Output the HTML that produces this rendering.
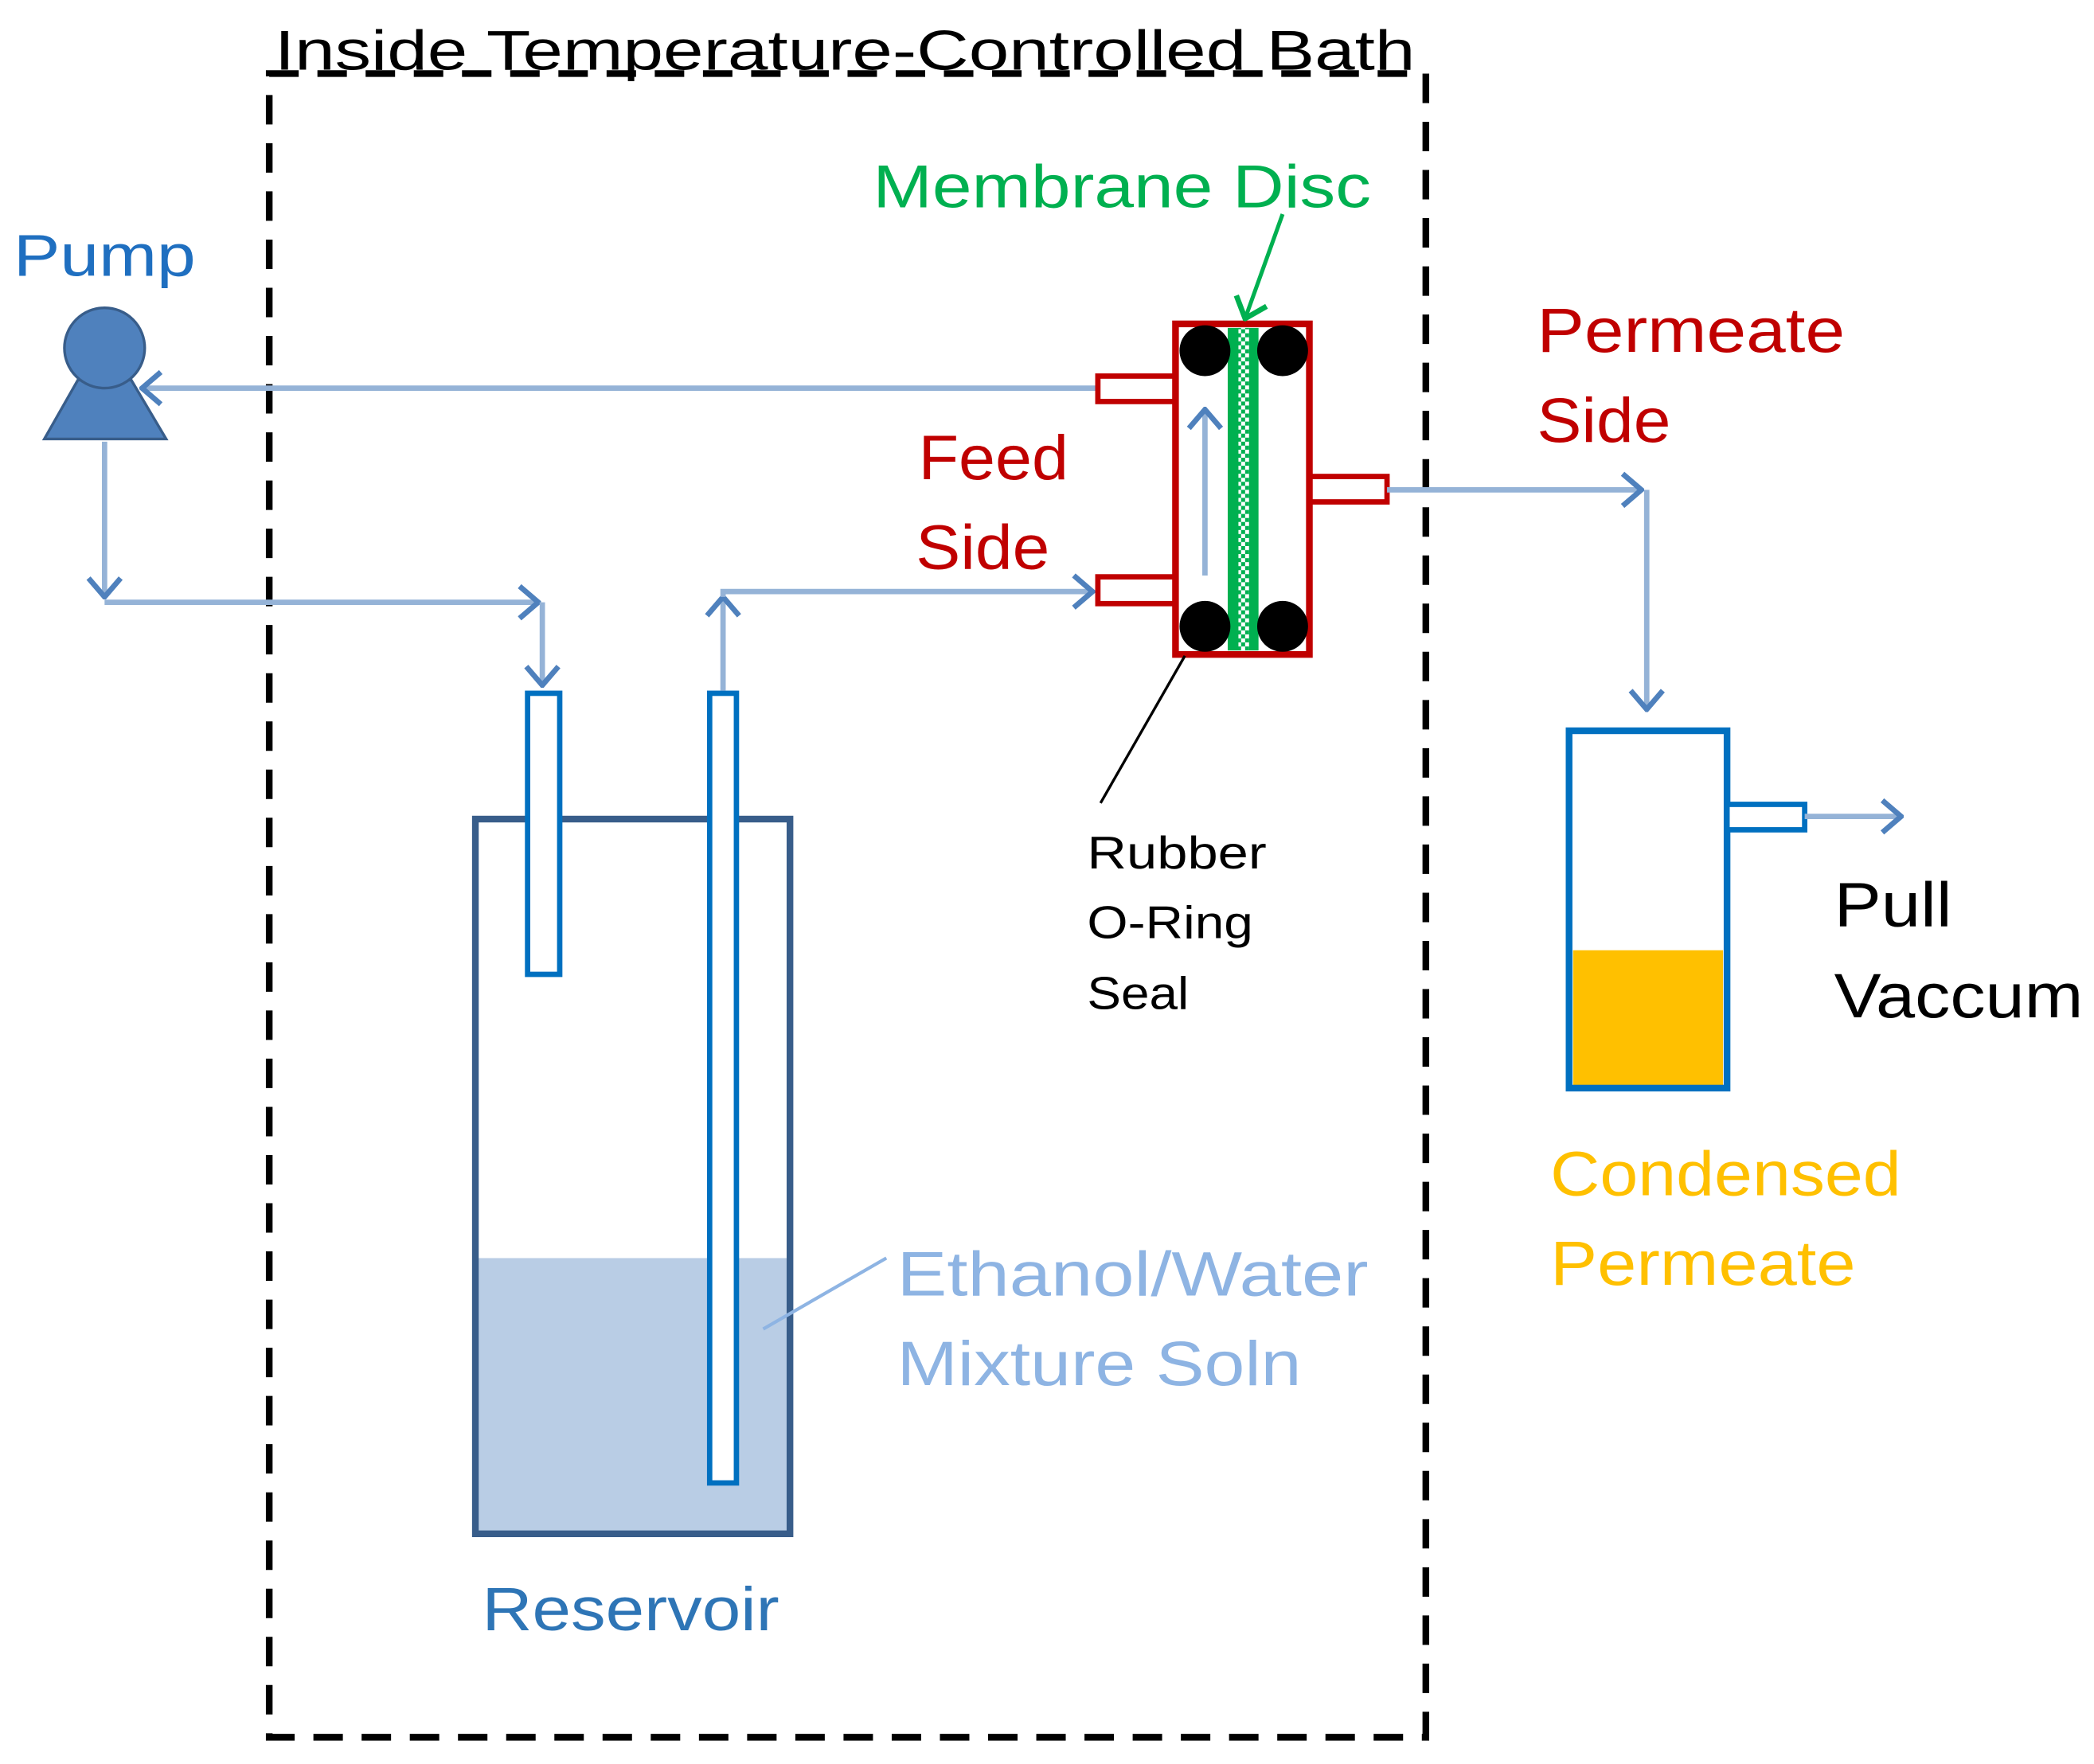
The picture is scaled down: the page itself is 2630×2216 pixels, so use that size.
<!DOCTYPE html>
<html><head><meta charset="utf-8"><style>html,body{margin:0;padding:0;background:#fff}svg{display:block}text{font-family:"Liberation Sans",sans-serif}</style></head>
<body>
<svg width="2630" height="2216" viewBox="0 0 1564 1318" xmlns="http://www.w3.org/2000/svg">
<defs>
<marker id="ab" markerWidth="18" markerHeight="28" refX="16" refY="14" orient="auto" markerUnits="userSpaceOnUse" viewBox="0 0 18 28"><path d="M2,2 L16,14 L2,26" fill="none" stroke="#4f81bd" stroke-width="4"/></marker>
<marker id="ag" markerWidth="18" markerHeight="28" refX="16" refY="14" orient="auto" viewBox="0 0 18 28" markerUnits="userSpaceOnUse"><path d="M2,2 L16,14 L2,26" fill="none" stroke="#00b050" stroke-width="4"/></marker>
<pattern id="chk" width="6" height="6" patternUnits="userSpaceOnUse"><rect width="6" height="6" fill="#00b050"/><rect width="3" height="3" fill="#fff"/><rect x="3" y="3" width="3" height="3" fill="#fff"/></pattern>
</defs>
<style>.ln{fill:none;stroke:#95b3d7;stroke-width:4}</style>
<rect x="201" y="55" width="864" height="1243" fill="none" stroke="#000" stroke-width="5" stroke-dasharray="22,14"/>
<text x="205" y="52" font-size="42" textLength="852" lengthAdjust="spacingAndGlyphs" fill="#000">Inside Temperature-Controlled Bath</text>
<text x="10" y="206" font-size="44" fill="#1f6fc0" textLength="136" lengthAdjust="spacingAndGlyphs">Pump</text>
<path d="M58,284 L98,284 L124,328 L33,328 Z" fill="#4f81bd" stroke="#385d8a" stroke-width="2"/>
<circle cx="78" cy="260" r="30" fill="#4f81bd" stroke="#385d8a" stroke-width="2"/>
<line class="ln" x1="820" y1="290" x2="106" y2="290" marker-end="url(#ab)"/>
<line class="ln" x1="78" y1="330" x2="78" y2="446" marker-end="url(#ab)"/>
<line class="ln" x1="78" y1="450" x2="402" y2="450" marker-end="url(#ab)"/>
<line class="ln" x1="405" y1="450" x2="405" y2="512" marker-end="url(#ab)"/>
<rect x="357" y="940" width="231" height="205" fill="#b9cde5"/>
<rect x="355" y="612" width="235" height="534" fill="none" stroke="#385d8a" stroke-width="5"/>
<rect x="394" y="518" width="24" height="210" fill="#fff" stroke="#0070c0" stroke-width="4"/>
<rect x="530" y="518" width="20" height="590" fill="#fff" stroke="#0070c0" stroke-width="4"/>
<line class="ln" x1="540" y1="516" x2="540" y2="446" marker-end="url(#ab)"/>
<polyline class="ln" points="540,446 540,442 816,442" marker-end="url(#ab)"/>
<rect x="820" y="281" width="58" height="19" fill="#fff" stroke="#c00000" stroke-width="4"/>
<rect x="820" y="431" width="58" height="20" fill="#fff" stroke="#c00000" stroke-width="4"/>
<rect x="978" y="356" width="58" height="19" fill="#fff" stroke="#c00000" stroke-width="4"/>
<rect x="878" y="242" width="100" height="247" fill="#fff" stroke="#c00000" stroke-width="5"/>
<rect x="917" y="245" width="23" height="241" fill="#00b050"/>
<rect x="925" y="245" width="8" height="241" fill="url(#chk)"/>
<circle cx="900" cy="262" r="19" fill="#000"/><circle cx="958" cy="262" r="19" fill="#000"/>
<circle cx="900" cy="468" r="19" fill="#000"/><circle cx="958" cy="468" r="19" fill="#000"/>
<line class="ln" x1="900" y1="430" x2="900" y2="306" marker-end="url(#ab)"/>
<text x="652" y="155" font-size="45" fill="#00b050" textLength="372" lengthAdjust="spacingAndGlyphs">Membrane Disc</text>
<line x1="958" y1="160" x2="930" y2="238" stroke="#00b050" stroke-width="3" marker-end="url(#ag)"/>
<text x="686" y="358" font-size="47" fill="#c00000" textLength="112" lengthAdjust="spacingAndGlyphs">Feed</text>
<text x="684" y="425" font-size="47" fill="#c00000" textLength="100" lengthAdjust="spacingAndGlyphs">Side</text>
<text x="1148" y="263" font-size="47" fill="#c00000" textLength="230" lengthAdjust="spacingAndGlyphs">Permeate</text>
<text x="1148" y="330" font-size="47" fill="#c00000" textLength="100" lengthAdjust="spacingAndGlyphs">Side</text>
<line x1="885" y1="490" x2="822" y2="600" stroke="#000" stroke-width="2"/>
<text x="812" y="649" font-size="34" fill="#000" textLength="134" lengthAdjust="spacingAndGlyphs">Rubber</text>
<text x="812" y="701" font-size="34" fill="#000" textLength="124" lengthAdjust="spacingAndGlyphs">O-Ring</text>
<text x="812" y="754" font-size="34" fill="#000" textLength="76" lengthAdjust="spacingAndGlyphs">Seal</text>
<line class="ln" x1="1036" y1="366" x2="1226" y2="366" marker-end="url(#ab)"/>
<line class="ln" x1="1230" y1="366" x2="1230" y2="530" marker-end="url(#ab)"/>
<rect x="1175" y="710" width="112" height="101" fill="#ffc000"/>
<rect x="1172" y="546" width="118" height="267" fill="none" stroke="#0070c0" stroke-width="5"/>
<rect x="1290" y="601" width="58" height="19" fill="#fff" stroke="#0070c0" stroke-width="4"/>
<line class="ln" x1="1348" y1="610" x2="1420" y2="610" marker-end="url(#ab)"/>
<text x="1370" y="692" font-size="47" fill="#000" textLength="88" lengthAdjust="spacingAndGlyphs">Pull</text>
<text x="1370" y="760" font-size="47" fill="#000" textLength="186" lengthAdjust="spacingAndGlyphs">Vaccum</text>
<text x="1158" y="893" font-size="47" fill="#ffc000" textLength="262" lengthAdjust="spacingAndGlyphs">Condensed</text>
<text x="1158" y="960" font-size="47" fill="#ffc000" textLength="228" lengthAdjust="spacingAndGlyphs">Permeate</text>
<line x1="570" y1="993" x2="662" y2="940" stroke="#8eb4e3" stroke-width="2.5"/>
<text x="670" y="968" font-size="47" fill="#8eb4e3" textLength="352" lengthAdjust="spacingAndGlyphs">Ethanol/Water</text>
<text x="670" y="1035" font-size="47" fill="#8eb4e3" textLength="302" lengthAdjust="spacingAndGlyphs">Mixture Soln</text>
<text x="360" y="1218" font-size="46" fill="#2e75b6" textLength="222" lengthAdjust="spacingAndGlyphs">Reservoir</text>
</svg>
</body></html>
